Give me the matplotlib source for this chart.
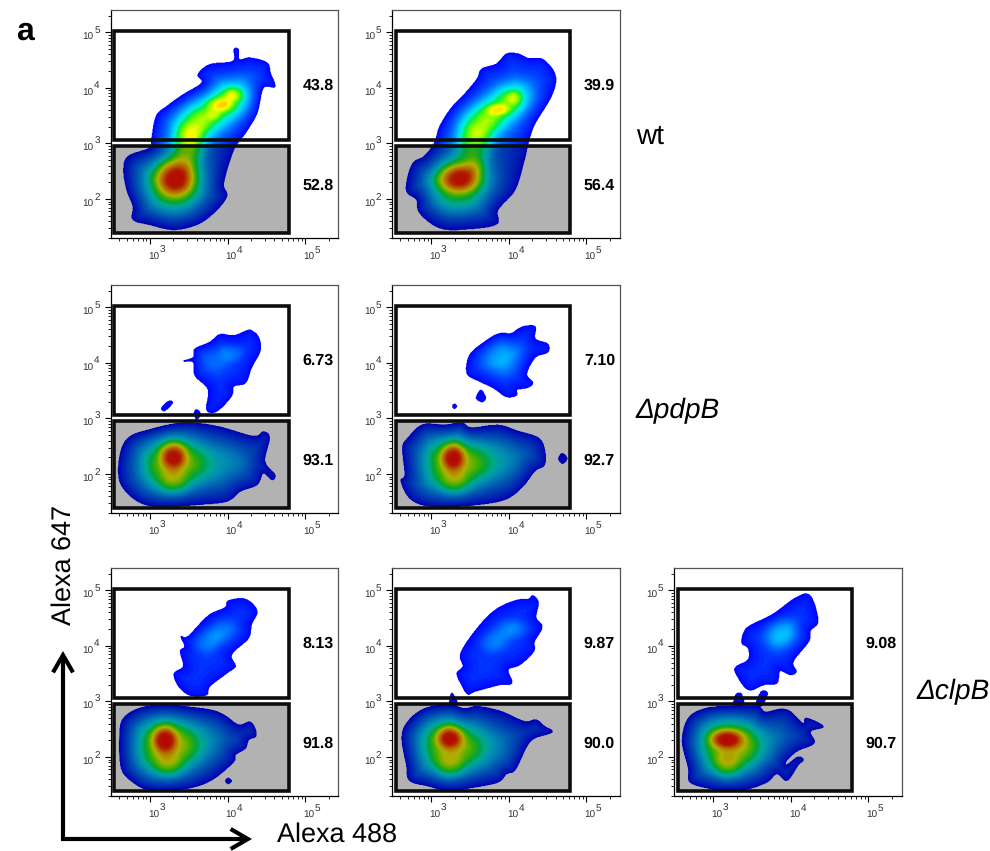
import numpy as np
import matplotlib
matplotlib.use("Agg")
import matplotlib.pyplot as plt
from matplotlib.colors import LinearSegmentedColormap, Normalize
from matplotlib.patches import Rectangle, FancyArrowPatch
from matplotlib.path import Path
from matplotlib.ticker import LogLocator, NullFormatter

plt.rcParams['font.family'] = ['Liberation Sans', 'DejaVu Sans']
plt.rcParams['text.hinting'] = 'no_hinting'
plt.rcParams['text.hinting_factor'] = 1

# ---------- readings: log10(Alexa 488), log10(Alexa 647) ----------
wt1_out = [(3.30,1.45),(3.60,1.54),(3.82,1.75),(3.99,2.05),(3.95,2.29),(4.08,2.89),(4.23,3.19),(4.38,3.55),(4.46,4.0),(4.61,4.02),(4.55,4.27),(4.51,4.45),(4.29,4.54),(4.15,4.51),(4.14,4.69),(4.08,4.69),(4.07,4.48),(3.77,4.42),(3.62,4.24),(3.67,4.09),(3.43,3.88),(3.22,3.67),(3.08,3.49),(3.02,3.07),(3.0,2.92),(2.72,2.77),(2.66,2.53),(2.70,2.17),(2.78,1.87),(2.78,1.63),(3.0,1.54)]
wt1_peaks = [(3.30,2.30,.36,.50,.46),(3.33,2.38,.18,.24,.38),(3.50,3.00,.16,.30,.26),(3.55,3.35,.24,.30,.32),(3.85,3.60,.26,.30,.30),(4.10,3.85,.24,.26,.30),(4.10,3.88,.10,.09,.16),(3.88,3.70,.12,.09,.15),(3.82,3.52,.07,.07,.08)]

wt2_out = [(3.45,1.46),(3.84,1.55),(3.86,1.81),(4.08,2.17),(4.20,2.71),(4.25,3.01),(4.33,3.34),(4.55,3.86),(4.60,4.22),(4.44,4.51),(4.25,4.53),(4.12,4.61),(3.97,4.61),(3.84,4.43),(3.65,4.34),(3.59,4.16),(3.43,3.89),(3.26,3.64),(3.11,3.31),(3.04,3.01),(2.91,2.77),(2.78,2.67),(2.71,2.47),(2.68,2.14),(2.81,1.99),(2.85,1.75),(3.11,1.48)]
wt2_peaks = [(3.34,2.28,.36,.46,.44),(3.36,2.38,.20,.18,.38),(3.58,2.60,.10,.12,.08),(3.55,3.00,.18,.30,.26),(3.60,3.35,.24,.28,.32),(3.88,3.62,.24,.28,.30),(4.10,3.85,.20,.24,.26),(3.86,3.61,.11,.07,.16),(4.08,3.83,.07,.09,.12)]

p1_up = [(4.31,4.58),(4.40,4.46),(4.42,4.22),(4.31,3.92),(4.23,3.64),(4.08,3.58),(4.05,3.40),(3.86,3.13),(3.73,3.16),(3.75,3.52),(3.58,3.77),(3.56,4.01),(3.43,4.03),(3.56,4.10),(3.58,4.25),(3.77,4.37),(3.90,4.51),(4.08,4.49),(4.25,4.58)]
p1_up_peaks = [(3.78,4.08,.18,.22,.13),(4.05,4.18,.12,.12,.13)]
p1_i1 = [(3.15,3.19),(3.19,3.14),(3.29,3.28),(3.24,3.31)]
p1_i2 = [(3.57,3.10),(3.60,3.16),(3.65,3.08),(3.60,2.98)]
p1_low = [(3.30,1.42),(3.60,1.45),(3.99,1.51),(4.16,1.69),(4.38,1.81),(4.46,2.02),(4.57,1.90),(4.61,1.99),(4.48,2.23),(4.54,2.65),(4.46,2.76),(4.33,2.68),(3.86,2.86),(3.43,2.92),(3.0,2.80),(2.72,2.65),(2.61,2.32),(2.61,1.87),(2.78,1.57),(3.0,1.43)]
p1_low_peaks = [(3.28,2.20,.33,.48,.44),(3.30,2.34,.12,.18,.36),(3.30,1.85,.13,.18,.14),(3.90,2.20,.30,.32,.16)]

p2_up = [(4.21,4.66),(4.34,4.65),(4.34,4.43),(4.50,4.34),(4.50,4.19),(4.34,4.10),(4.23,3.80),(4.31,3.64),(4.23,3.55),(4.10,3.52),(4.10,3.42),(3.97,3.39),(3.80,3.55),(3.62,3.67),(3.46,3.81),(3.49,4.13),(3.65,4.34),(3.86,4.52),(4.03,4.53),(4.12,4.61)]
p2_up_peaks = [(3.90,4.13,.22,.28,.24)]
p2_i1 = [(3.58,3.37),(3.64,3.51),(3.70,3.37),(3.65,3.30)]
p2_i2 = [(3.27,3.22),(3.30,3.26),(3.33,3.22),(3.30,3.18)]
p2_low = [(3.34,1.42),(3.90,1.52),(4.16,1.75),(4.33,2.05),(4.46,2.17),(4.46,2.44),(4.38,2.65),(4.12,2.77),(3.86,2.88),(3.52,2.83),(3.39,2.92),(3.17,2.88),(2.89,2.89),(2.70,2.65),(2.63,2.47),(2.66,1.99),(2.61,1.87),(2.72,1.57),(2.94,1.43)]
p2_low_peaks = [(3.28,2.20,.33,.48,.44),(3.28,2.32,.11,.18,.36),(3.30,1.85,.13,.18,.14),(3.85,2.25,.30,.32,.17)]
p2_i3 = [(4.64,2.28),(4.69,2.37),(4.75,2.28),(4.69,2.19)]

c1_up = [(4.23,4.84),(4.38,4.63),(4.31,4.39),(4.27,4.14),(4.08,3.90),(4.05,3.78),(4.10,3.63),(3.99,3.51),(3.77,3.27),(3.73,3.12),(3.52,3.11),(3.37,3.27),(3.31,3.50),(3.43,3.63),(3.39,3.90),(3.45,3.99),(3.40,4.17),(3.49,4.17),(3.75,4.54),(3.97,4.69),(4.01,4.81)]
c1_up_peaks = [(3.72,4.11,.14,.17,.17),(3.95,4.27,.14,.18,.15)]
c1_low = [(3.22,1.40),(3.56,1.46),(3.82,1.61),(4.08,1.92),(4.10,2.04),(4.23,2.16),(4.27,2.31),(4.36,2.37),(4.36,2.49),(4.29,2.63),(4.14,2.58),(3.95,2.76),(3.77,2.85),(3.43,2.91),(3.17,2.94),(2.87,2.88),(2.66,2.70),(2.61,2.40),(2.63,1.80),(2.78,1.55),(2.96,1.42)]
c1_low_peaks = [(3.20,2.20,.33,.48,.46),(3.19,2.33,.11,.18,.35),(3.24,1.85,.13,.18,.13),(3.70,2.30,.28,.32,.12)]
c1_i1 = [(3.97,1.57),(4.01,1.62),(4.05,1.57),(4.01,1.52)]

c2_up = [(4.31,4.90),(4.38,4.78),(4.35,4.51),(4.43,4.34),(4.33,4.08),(4.32,3.90),(4.14,3.66),(3.99,3.57),(4.04,3.33),(3.88,3.30),(3.56,3.18),(3.47,3.13),(3.39,3.30),(3.33,3.51),(3.41,3.63),(3.38,3.87),(3.60,4.33),(3.84,4.66),(4.10,4.82),(4.25,4.84)]
c2_up_peaks = [(3.80,4.08,.13,.14,.15),(4.03,4.30,.16,.13,.16)]
c2_i1 = [(3.24,2.95),(3.25,3.12),(3.28,3.13),(3.34,2.95)]
c2_low = [(3.22,1.40),(3.56,1.46),(3.86,1.55),(3.97,1.70),(4.08,1.77),(4.23,2.19),(4.33,2.34),(4.56,2.45),(4.46,2.55),(4.35,2.67),(4.20,2.64),(3.90,2.82),(3.60,2.91),(3.43,2.87),(3.22,2.94),(2.91,2.87),(2.70,2.64),(2.62,2.35),(2.68,1.86),(2.72,1.58),(2.96,1.48)]
c2_low_peaks = [(3.22,2.20,.33,.48,.44),(3.24,2.36,.12,.15,.37),(3.24,1.85,.13,.18,.14),(3.75,2.15,.28,.32,.13)]

c3_up = [(4.25,4.90),(4.35,4.45),(4.25,4.27),(4.23,4.08),(4.03,3.72),(4.07,3.54),(3.99,3.48),(3.86,3.55),(3.82,3.33),(3.65,3.30),(3.45,3.21),(3.29,3.51),(3.30,3.63),(3.45,3.75),(3.45,3.96),(3.37,4.05),(3.39,4.23),(3.47,4.36),(3.77,4.57),(4.07,4.87)]
c3_up_peaks = [(3.88,4.22,.17,.22,.28)]
c3_i1 = [(3.27,2.95),(3.29,3.12),(3.36,3.14),(3.39,2.95)]
c3_i2 = [(3.55,2.95),(3.62,3.18),(3.70,3.14),(3.62,2.92)]
c3_low = [(3.17,1.40),(3.45,1.43),(3.69,1.55),(3.82,1.70),(3.95,1.58),(4.09,1.85),(4.16,1.95),(4.09,2.0),(3.95,1.86),(3.94,1.93),(4.08,2.11),(4.30,2.25),(4.25,2.46),(4.42,2.55),(4.20,2.70),(4.16,2.60),(3.99,2.82),(3.86,2.86),(3.67,2.81),(3.56,2.91),(3.17,2.91),(2.89,2.87),(2.68,2.70),(2.60,2.29),(2.68,1.80),(2.70,1.55),(2.94,1.44)]
c3_low_peaks = [(3.18,2.20,.32,.48,.46),(3.17,2.33,.15,.12,.35),(3.18,1.85,.12,.18,.14),(3.65,2.25,.28,.32,.12)]

NO_PEAKS = []
pct_top = ["43.8", "39.9", "6.73", "7.10", "8.13", "9.87", "9.08"]
pct_low = ["52.8", "56.4", "93.1", "92.7", "91.8", "90.0", "90.7"]
strain_labels = ["wt", "ΔpdpB", "ΔclpB"]
x_axis_name = "Alexa 488"
y_axis_name = "Alexa 647"
panel_label = "a"
tick_decades_x = [3, 4, 5]
tick_decades_y = [2, 3, 4, 5]

# (outline, peaks, plateau level)
panels = [
    [(wt1_out, wt1_peaks, .16)],
    [(wt2_out, wt2_peaks, .16)],
    [(p1_low, p1_low_peaks, .22), (p1_up, p1_up_peaks, .13), (p1_i1, NO_PEAKS, .05), (p1_i2, NO_PEAKS, .05)],
    [(p2_low, p2_low_peaks, .22), (p2_up, p2_up_peaks, .13), (p2_i1, NO_PEAKS, .06), (p2_i2, NO_PEAKS, .03), (p2_i3, NO_PEAKS, .05)],
    [(c1_low, c1_low_peaks, .22), (c1_up, c1_up_peaks, .13), (c1_i1, NO_PEAKS, .05)],
    [(c2_low, c2_low_peaks, .22), (c2_up, c2_up_peaks, .13), (c2_i1, NO_PEAKS, .05)],
    [(c3_low, c3_low_peaks, .22), (c3_up, c3_up_peaks, .13), (c3_i1, NO_PEAKS, .05), (c3_i2, NO_PEAKS, .05)],
]

# ---------- layout ----------
W, H = 990, 851
PW, PH = 227.5, 228
panel_xy = [(110.7, 10), (392, 10), (110.7, 285), (392, 285), (110.7, 568), (392, 568), (674, 568)]
XLIM = (2.493, 5.426)
YLIM = (1.30, 5.40)
PX_X = PW / (XLIM[1] - XLIM[0])
PX_Y = PH / (YLIM[1] - YLIM[0])
GATE_X = (2.54, 4.794)
GATE_TOP = (3.07, 5.02)
GATE_LOW = (1.39, 2.96)

cmap = LinearSegmentedColormap.from_list("flow", [
    (0.00, (0.00, 0.00, 1.00)), (0.12, (0.00, 0.22, 1.00)), (0.25, (0.00, 0.50, 1.00)),
    (0.38, (0.00, 0.82, 1.00)), (0.46, (0.00, 0.95, 0.80)), (0.52, (0.00, 0.92, 0.35)),
    (0.60, (0.35, 0.98, 0.00)), (0.70, (1.00, 1.00, 0.00)), (0.82, (1.00, 0.58, 0.00)),
    (0.92, (1.00, 0.14, 0.00)), (1.00, (1.00, 0.04, 0.00))])
norm = Normalize(0, 1)
LEVELS = np.linspace(0, 1, 51)


def smooth(pts, n=6):
    p = np.array(pts, float)
    out = []
    m = len(p)
    for i in range(m):
        p0, p1, p2, p3 = p[i - 1], p[i], p[(i + 1) % m], p[(i + 2) % m]
        for t in np.linspace(0, 1, n, endpoint=False):
            out.append(0.5 * (2 * p1 + (p2 - p0) * t + (2 * p0 - 5 * p1 + 4 * p2 - p3) * t**2
                              + (3 * p1 - p0 - 3 * p2 + p3) * t**3))
    return np.array(out)


def field(outline, peaks, base):
    poly = smooth(outline)
    pad = .03
    xs = np.arange(poly[:, 0].min() - pad, poly[:, 0].max() + pad, 0.6 / PX_X)
    ys = np.arange(poly[:, 1].min() - pad, poly[:, 1].max() + pad, 0.6 / PX_Y)
    X, Y = np.meshgrid(xs, ys)
    inside = Path(poly).contains_points(np.c_[X.ravel(), Y.ravel()]).reshape(X.shape)
    a = poly * [PX_X, PX_Y]
    b = np.roll(a, -1, axis=0)
    gx, gy = X.ravel() * PX_X, Y.ravel() * PX_Y
    d2 = np.full(gx.shape, np.inf)
    for p, q in zip(a, b):
        v = q - p
        t = np.clip(((gx - p[0]) * v[0] + (gy - p[1]) * v[1]) / max((v**2).sum(), 1e-9), 0, 1)
        d2 = np.minimum(d2, (gx - p[0] - t * v[0])**2 + (gy - p[1] - t * v[1])**2)
    d = np.sqrt(d2).reshape(X.shape)
    G = np.full(X.shape, float(base))
    for px, py, sx, sy, amp in peaks:
        r2 = ((X - px) / sx)**2 + ((Y - py) / sy)**2
        G += amp * np.exp(-0.5 * r2**1.3)
    F = (1 - np.exp(-d / 11.0)) * G
    F = np.where(inside, np.minimum(F, 1.0), -0.5)
    return 10**X, 10**Y, F


fig = plt.figure(figsize=(W / 100, H / 100), dpi=100)
fig.patch.set_facecolor("white")
TICK = "#333333"


def tick_label(ax, k, axis):
    if axis == "x":
        xy, coords = (10.0**k, 0), ("data", "axes fraction")
        base_off, sup_off = (-2, -19), (9.5, -12)
    else:
        xy, coords = (0, 10.0**k), ("axes fraction", "data")
        base_off, sup_off = (-28, -5), (-16.5, 2)
    ax.annotate("10", xy=xy, xycoords=coords, xytext=base_off, textcoords="offset pixels",
                ha="left", va="center", fontsize=7.5, color=TICK, annotation_clip=False)
    ax.annotate(str(k), xy=xy, xycoords=coords, xytext=sup_off, textcoords="offset pixels",
                ha="left", va="center", fontsize=7.5, color=TICK, annotation_clip=False)


for (px, py), shapes, ptop, plow in zip(panel_xy, panels, pct_top, pct_low):
    ax = fig.add_axes([px / W, 1 - (py + PH) / H, PW / W, PH / H])
    ax.set_xscale("log")
    ax.set_yscale("log")
    ax.set_xlim(10**XLIM[0], 10**XLIM[1])
    ax.set_ylim(10**YLIM[0], 10**YLIM[1])
    for outline, peaks, base in shapes:
        X, Y, F = field(outline, peaks, base)
        ax.contourf(X, Y, F, levels=LEVELS, cmap=cmap, norm=norm, extend="max", zorder=2,
                    antialiased=True).set_edgecolor("face")
    gate_w = 10**GATE_X[1] - 10**GATE_X[0]
    # the grey gate darkens whatever lies below it (multiply)
    ax.add_patch(Rectangle((10**GATE_X[0], 10**GATE_LOW[0]), gate_w, 10**GATE_LOW[1] - 10**GATE_LOW[0],
                           fc="black", alpha=0.30, ec="none", zorder=2.5))
    for gy in (GATE_TOP, GATE_LOW):
        ax.add_patch(Rectangle((10**GATE_X[0], 10**gy[0]), gate_w, 10**gy[1] - 10**gy[0],
                               fc="none", ec="#0d0d0d", lw=2.6, joinstyle="miter", zorder=3))
    for s in ("top", "right"):
        ax.spines[s].set_color("#555555")
    for s in ax.spines.values():
        s.set_linewidth(0.9)
    ax.set_xticks([10.0**k for k in tick_decades_x])
    ax.set_yticks([10.0**k for k in tick_decades_y])
    ax.set_xticklabels([])
    ax.set_yticklabels([])
    for axis in (ax.xaxis, ax.yaxis):
        axis.set_minor_locator(LogLocator(base=10, subs=np.arange(2, 10) * 1.0, numticks=12))
        axis.set_minor_formatter(NullFormatter())
    ax.tick_params(which="major", length=4.5, width=0.8, color="black")
    ax.tick_params(which="minor", length=2.2, width=0.6, color="black")
    for k in tick_decades_x:
        tick_label(ax, k, "x")
    for k in tick_decades_y:
        tick_label(ax, k, "y")
    ax.text((PW - 20) / PW, 1 - 76 / PH, ptop, transform=ax.transAxes, ha="center", va="center",
            fontsize=11.6, fontweight="bold", color="black")
    ax.text((PW - 20) / PW, 1 - 175.5 / PH, plow, transform=ax.transAxes, ha="center", va="center",
            fontsize=11.6, fontweight="bold", color="black")

ov = fig.add_axes([0, 0, 1, 1], facecolor="none")
ov.set_xlim(0, W)
ov.set_ylim(H, 0)
ov.axis("off")
ov.text(25, 31, panel_label, fontsize=23, fontweight="bold", ha="center", va="center")
ov.text(636, 137, strain_labels[0], fontsize=20, ha="left", va="center")
ov.text(636, 411, strain_labels[1], fontsize=20, style="italic", ha="left", va="center")
ov.text(917, 692, strain_labels[2], fontsize=20, style="italic", ha="left", va="center")
ov.text(277, 835, x_axis_name, fontsize=19.7, ha="left", va="center")
ov.text(64, 565, y_axis_name, fontsize=19.7, rotation=90, ha="center", va="center")
for tail, head in (((63, 840), (63, 651)), ((61, 839), (252, 839))):
    ov.add_patch(FancyArrowPatch(tail, head, arrowstyle="->,head_length=0.62,head_width=0.36",
                                 mutation_scale=20, lw=3, color="black", shrinkA=0, shrinkB=0,
                                 joinstyle="miter", capstyle="butt"))

fig.savefig("out.png", dpi=100)
